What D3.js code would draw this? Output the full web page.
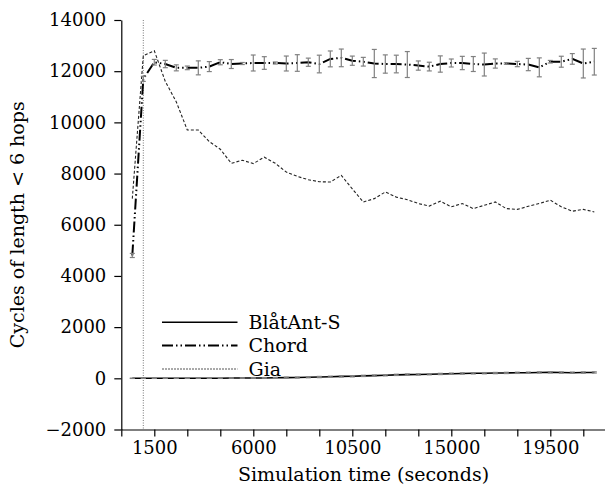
<!DOCTYPE html>
<html>
<head>
<meta charset="utf-8">
<script src="https://cdn.jsdelivr.net/npm/d3@7"></script>
<style>
  html, body { margin: 0; padding: 0; background: #fff; }
  svg { display: block; }
  text { font-family: "DejaVu Serif", serif; }
</style>
</head>
<body>
<svg id="chart" width="605" height="489"></svg>
<script>
// ---- data ----
const times = d3.range(500, 21501, 500); // 43 sample times (s)

const blatant = [0, 0, 0, 0, 0, 0, 0, 5, 5, 10, 10, 15, 15, 20, 25, 30, 40, 50, 60, 75, 80, 95,
  105, 120, 135, 145, 150, 160, 170, 180, 190, 195, 200, 205, 210, 215, 220, 230, 235, 225, 220, 225, 230];
const blatantErr = [5, 5, 5, 5, 5, 5, 5, 10, 10, 10, 10, 15, 15, 15, 20, 20, 20, 25, 25, 25, 25, 25,
  25, 25, 25, 25, 25, 25, 25, 25, 25, 25, 25, 25, 25, 25, 25, 25, 25, 25, 25, 25, 25];

const chord = [4800, 11700, 12350, 12280, 12130, 12130, 12130, 12180, 12350, 12280, 12300, 12320,
  12320, 12320, 12300, 12320, 12350, 12280, 12480, 12520, 12410, 12370, 12300, 12280, 12280, 12260,
  12220, 12180, 12280, 12320, 12320, 12280, 12260, 12300, 12300, 12280, 12260, 12150, 12370, 12370,
  12480, 12300, 12370];
const chordErr = [80, 100, 110, 143, 117, 71, 273, 195, 100, 175, 40, 312, 247, 40, 292, 325, 160,
  345, 310, 345, 180, 170, 550, 357, 345, 507, 180, 170, 318, 156, 260, 292, 448, 180, 30, 104, 240,
  370, 50, 214, 208, 565, 520];

const gia = [7020, 12600, 12800, 11600, 10800, 9700, 9700, 9250, 8950, 8400, 8520, 8390, 8640, 8400,
  8060, 7890, 7760, 7680, 7670, 7930, 7400, 6890, 7020, 7280, 7080, 6980, 6830, 6730, 6920, 6700,
  6830, 6630, 6760, 6890, 6630, 6600, 6720, 6830, 6960, 6700, 6530, 6600, 6500];

const yTicks = d3.range(-2000, 14001, 2000);
const xTicks = d3.range(0, 21001, 1500);
const xLabeled = [1500, 6000, 10500, 15000, 19500];
const markerTime = 1000;
const seriesNames = ["BlåtAnt-S", "Chord", "Gia"];

// ---- layout ----
const svg = d3.select("#chart");
const x = d3.scaleLinear().domain([0, 22000]).range([121.3, 605.3]);
const y = d3.scaleLinear().domain([-2000, 14000]).range([429.5, 20]);

// marker vertical line
svg.append("line")
  .attr("x1", x(markerTime)).attr("x2", x(markerTime))
  .attr("y1", y(14000)).attr("y2", y(-2000))
  .attr("stroke", "#555").attr("stroke-width", 0.8)
  .attr("stroke-dasharray", "1,1.5");

// axes
const fmt = d => (d < 0 ? "\u2212" + Math.abs(d) : String(d));
const yAxis = svg.append("g")
  .attr("transform", `translate(${x(0)},0)`)
  .call(d3.axisLeft(y).tickValues(yTicks).tickFormat(fmt).tickSize(7).tickSizeOuter(0).tickPadding(8));
const xAxis = svg.append("g")
  .attr("transform", `translate(0,${y(-2000)})`)
  .call(d3.axisBottom(x).tickValues(xTicks)
    .tickFormat(d => xLabeled.includes(d) ? String(d) : "")
    .tickSize(7).tickSizeOuter(0).tickPadding(5));
[yAxis, xAxis].forEach(g => {
  g.selectAll("text").attr("font-family", "DejaVu Serif").attr("font-size", 18).attr("fill", "#000");
  g.selectAll("line, path").attr("stroke", "#000").attr("stroke-width", 1.2);
});

// axis titles
svg.append("text")
  .attr("x", 363.5).attr("y", 481)
  .attr("text-anchor", "middle").attr("font-size", 19)
  .text("Simulation time (seconds)");
svg.append("text")
  .attr("transform", `translate(24,${(y(14000) + y(-2000)) / 2}) rotate(-90)`)
  .attr("text-anchor", "middle").attr("font-size", 19)
  .text("Cycles of length < 6 hops");

// lines
const line = vals => d3.line().x((d, i) => x(times[i])).y(d => y(d))(vals);

svg.append("path").attr("d", line(gia))
  .attr("fill", "none").attr("stroke", "#222").attr("stroke-width", 1.1)
  .attr("stroke-dasharray", "3,2");

svg.append("path").attr("d", line(chord))
  .attr("fill", "none").attr("stroke", "#000").attr("stroke-width", 2)
  .attr("stroke-dasharray", "11,3,1.5,3,1.5,3");

svg.append("path").attr("d", line(blatant))
  .attr("fill", "none").attr("stroke", "#000").attr("stroke-width", 1.6);

// error bars
function errorBars(vals, errs) {
  const g = svg.append("g").attr("stroke", "#808080").attr("stroke-width", 1.2).attr("fill", "none");
  vals.forEach((v, i) => {
    const cx = x(times[i]), y1 = y(v - errs[i]), y2 = y(v + errs[i]);
    g.append("line").attr("x1", cx).attr("x2", cx).attr("y1", y1).attr("y2", y2);
    g.append("line").attr("x1", cx - 2.5).attr("x2", cx + 2.5).attr("y1", y1).attr("y2", y1);
    g.append("line").attr("x1", cx - 2.5).attr("x2", cx + 2.5).attr("y1", y2).attr("y2", y2);
  });
}
errorBars(chord, chordErr);
errorBars(blatant, blatantErr);

// legend
const legendRows = [
  { name: seriesNames[0], stroke: "#000", width: 1.6, dash: null },
  { name: seriesNames[1], stroke: "#000", width: 2, dash: "11,3,1.5,3,1.5,3" },
  { name: seriesNames[2], stroke: "#555", width: 1, dash: "2,1" }
];
const rowY = [322.3, 345.6, 369];
legendRows.forEach((r, i) => {
  svg.append("line")
    .attr("x1", 162).attr("x2", 237.5).attr("y1", rowY[i]).attr("y2", rowY[i])
    .attr("stroke", r.stroke).attr("stroke-width", r.width)
    .attr("stroke-dasharray", r.dash);
  svg.append("text")
    .attr("x", 248.5).attr("y", rowY[i] + 6.8)
    .attr("font-size", 19).text(r.name);
});
</script>
</body>
</html>
